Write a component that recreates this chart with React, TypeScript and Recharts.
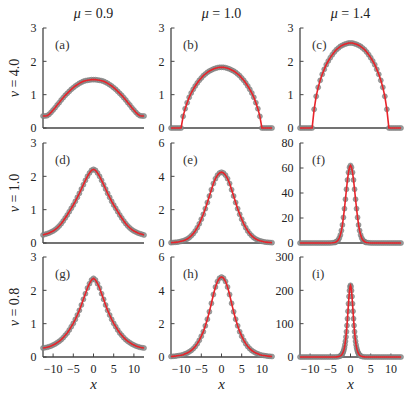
import { ComposedChart, Line, XAxis, YAxis } from 'recharts'

// x grids
const XS = [
  -12.5, -12, -11.5, -11, -10.5, -10, -9.5, -9, -8.5, -8, -7.5, -7, -6.5, -6, -5.5, -5, -4.5, -4, -3.5, -3, -2.5, -2, -1.5, -1, -0.5,
  0,
  0.5, 1, 1.5, 2, 2.5, 3, 3.5, 4, 4.5, 5, 5.5, 6, 6.5, 7, 7.5, 8, 8.5, 9, 9.5, 10, 10.5, 11, 11.5, 12, 12.5,
]
const XS_F = [
  -12.5, -12, -11.5, -11, -10.5, -10, -9.5, -9, -8.5, -8, -7.5, -7, -6.5, -6, -5.5, -5, -4.5,
  -4, -3.75, -3.5, -3.25, -3, -2.75, -2.5, -2.25, -2, -1.75, -1.5, -1.25, -1, -0.75, -0.5, -0.25,
  0,
  0.25, 0.5, 0.75, 1, 1.25, 1.5, 1.75, 2, 2.25, 2.5, 2.75, 3, 3.25, 3.5, 3.75, 4,
  4.5, 5, 5.5, 6, 6.5, 7, 7.5, 8, 8.5, 9, 9.5, 10, 10.5, 11, 11.5, 12, 12.5,
]
const XS_I = [
  -12.5, -12, -11.5, -11, -10.5, -10, -9.5, -9, -8.5, -8, -7.5, -7, -6.5, -6, -5.5, -5, -4.5, -4, -3.5, -3,
  -2.5, -2.375, -2.25, -2.125, -2, -1.875, -1.75, -1.625, -1.5, -1.375, -1.25, -1.125, -1, -0.875, -0.75, -0.625, -0.5, -0.375, -0.25, -0.125,
  0,
  0.125, 0.25, 0.375, 0.5, 0.625, 0.75, 0.875, 1, 1.125, 1.25, 1.375, 1.5, 1.625, 1.75, 1.875, 2, 2.125, 2.25, 2.375, 2.5,
  3, 3.5, 4, 4.5, 5, 5.5, 6, 6.5, 7, 7.5, 8, 8.5, 9, 9.5, 10, 10.5, 11, 11.5, 12, 12.5,
]

// nu = 4.0
const Y_A = [
  0.36, 0.36, 0.37, 0.41, 0.47, 0.54, 0.61, 0.69, 0.76, 0.84, 0.91, 0.98, 1.04, 1.1, 1.16, 1.21, 1.26, 1.3, 1.34, 1.37, 1.4, 1.42, 1.43, 1.44, 1.45,
  1.45,
  1.45, 1.44, 1.43, 1.42, 1.4, 1.37, 1.34, 1.3, 1.26, 1.21, 1.16, 1.1, 1.04, 0.98, 0.91, 0.84, 0.76, 0.69, 0.61, 0.54, 0.47, 0.41, 0.37, 0.36, 0.36,
]
const Y_B = [
  0, 0, 0, 0, 0, 0, 0.35, 0.58, 0.76, 0.92, 1.05, 1.16, 1.26, 1.35, 1.43, 1.5, 1.57, 1.62, 1.67, 1.71, 1.74, 1.77, 1.79, 1.81, 1.82,
  1.82,
  1.82, 1.81, 1.79, 1.77, 1.74, 1.71, 1.67, 1.62, 1.57, 1.5, 1.43, 1.35, 1.26, 1.16, 1.05, 0.92, 0.76, 0.58, 0.35, 0, 0, 0, 0, 0, 0,
]
const Y_C = [
  0, 0, 0, 0, 0, 0, 0, 0.56, 0.95, 1.22, 1.43, 1.61, 1.76, 1.9, 2.01, 2.11, 2.2, 2.28, 2.35, 2.4, 2.45, 2.48, 2.51, 2.53, 2.55,
  2.55,
  2.55, 2.53, 2.51, 2.48, 2.45, 2.4, 2.35, 2.28, 2.2, 2.11, 2.01, 1.9, 1.76, 1.61, 1.43, 1.22, 0.95, 0.56, 0, 0, 0, 0, 0, 0, 0,
]

// nu = 1.0
const Y_D = [
  0.24, 0.26, 0.28, 0.3, 0.33, 0.36, 0.4, 0.45, 0.51, 0.58, 0.66, 0.75, 0.84, 0.94, 1.04, 1.14, 1.25, 1.37, 1.49, 1.62, 1.75, 1.88, 2.0, 2.1, 2.18,
  2.21,
  2.18, 2.1, 2.0, 1.88, 1.75, 1.62, 1.49, 1.37, 1.25, 1.14, 1.04, 0.94, 0.84, 0.75, 0.66, 0.58, 0.51, 0.45, 0.4, 0.36, 0.33, 0.3, 0.28, 0.26, 0.24,
]
const Y_E = [
  0.02, 0.03, 0.04, 0.05, 0.07, 0.1, 0.13, 0.18, 0.24, 0.32, 0.43, 0.56, 0.72, 0.92, 1.15, 1.43, 1.72, 2.06, 2.43, 2.82, 3.2, 3.57, 3.86, 4.07, 4.2,
  4.25,
  4.2, 4.07, 3.86, 3.57, 3.2, 2.82, 2.43, 2.06, 1.72, 1.43, 1.15, 0.92, 0.72, 0.56, 0.43, 0.32, 0.24, 0.18, 0.13, 0.1, 0.07, 0.05, 0.04, 0.03, 0.02,
]
const Y_F = [
  0, 0, 0, 0, 0, 0, 0, 0, 0, 0, 0, 0, 0, 0, 0.02, 0.06, 0.15,
  0.35, 0.6, 1.0, 1.6, 2.6, 4.2, 6.5, 10, 14.5, 20.5, 27.5, 35, 43, 50.5, 56.5, 60.5,
  62,
  60.5, 56.5, 50.5, 43, 35, 27.5, 20.5, 14.5, 10, 6.5, 4.2, 2.6, 1.6, 1.0, 0.6, 0.35,
  0.15, 0.06, 0.02, 0, 0, 0, 0, 0, 0, 0, 0, 0, 0, 0, 0, 0, 0,
]

// nu = 0.8
const Y_G = [
  0.27, 0.28, 0.29, 0.31, 0.33, 0.36, 0.39, 0.43, 0.47, 0.52, 0.58, 0.65, 0.72, 0.81, 0.91, 1.01, 1.13, 1.26, 1.4, 1.56, 1.73, 1.9, 2.07, 2.2, 2.31,
  2.36,
  2.31, 2.2, 2.07, 1.9, 1.73, 1.56, 1.4, 1.26, 1.13, 1.01, 0.91, 0.81, 0.72, 0.65, 0.58, 0.52, 0.47, 0.43, 0.39, 0.36, 0.33, 0.31, 0.29, 0.28, 0.27,
]
const Y_H = [
  0.03, 0.04, 0.05, 0.07, 0.09, 0.11, 0.14, 0.19, 0.24, 0.31, 0.39, 0.5, 0.63, 0.8, 1.0, 1.25, 1.52, 1.87, 2.27, 2.72, 3.22, 3.75, 4.2, 4.53, 4.73,
  4.8,
  4.73, 4.53, 4.2, 3.75, 3.22, 2.72, 2.27, 1.87, 1.52, 1.25, 1.0, 0.8, 0.63, 0.5, 0.39, 0.31, 0.24, 0.19, 0.14, 0.11, 0.09, 0.07, 0.05, 0.04, 0.03,
]
const Y_I = [
  0, 0, 0, 0, 0, 0, 0, 0, 0, 0, 0, 0, 0, 0, 0, 0.01, 0.04, 0.12, 0.36, 1.1,
  3.3, 4.4, 5.7, 7.5, 9.9, 12.9, 17.0, 22.1, 28.5, 36.8, 47.3, 60.3, 76, 94.4, 115, 137.4, 160.1, 181.6, 199.2, 210.9,
  215,
  210.9, 199.2, 181.6, 160.1, 137.4, 115, 94.4, 76, 60.3, 47.3, 36.8, 28.5, 22.1, 17.0, 12.9, 9.9, 7.5, 5.7, 4.4, 3.3,
  1.1, 0.36, 0.12, 0.04, 0.01, 0, 0, 0, 0, 0, 0, 0, 0, 0, 0, 0, 0, 0, 0, 0,
]

const MU_LABELS = ['0.9', '1.0', '1.4']
const NU_LABELS = ['4.0', '1.0', '0.8']
const X_TICKS = [-10, -5, 0, 5, 10]

const PANELS = [
  { id: 'a', row: 0, col: 0, xs: XS, ys: Y_A, yMax: 3, yTicks: [0, 1, 2, 3] },
  { id: 'b', row: 0, col: 1, xs: XS, ys: Y_B, yMax: 3, yTicks: [0, 1, 2, 3] },
  { id: 'c', row: 0, col: 2, xs: XS, ys: Y_C, yMax: 3, yTicks: [0, 1, 2, 3] },
  { id: 'd', row: 1, col: 0, xs: XS, ys: Y_D, yMax: 3, yTicks: [0, 1, 2, 3] },
  { id: 'e', row: 1, col: 1, xs: XS, ys: Y_E, yMax: 6, yTicks: [0, 2, 4, 6] },
  { id: 'f', row: 1, col: 2, xs: XS_F, ys: Y_F, yMax: 80, yTicks: [0, 20, 40, 60, 80] },
  { id: 'g', row: 2, col: 0, xs: XS, ys: Y_G, yMax: 3, yTicks: [0, 1, 2, 3] },
  { id: 'h', row: 2, col: 1, xs: XS, ys: Y_H, yMax: 6, yTicks: [0, 2, 4, 6] },
  { id: 'i', row: 2, col: 2, xs: XS_I, ys: Y_I, yMax: 300, yTicks: [0, 100, 200, 300] },
]

const COL_LEFT = [43, 171, 300]
const ROW_TOP = [28, 143, 257]
const BOX_W = 101
const BOX_H = 100
const PAD_L = 32
const PAD_T = 10
const PAD_R = 5
const PAD_B = 30
const CW = PAD_L + BOX_W + PAD_R
const CH = PAD_T + BOX_H + PAD_B
const MARGIN = { top: PAD_T, right: PAD_R, bottom: 0, left: 0 }

const SERIF = "'Liberation Serif', 'DejaVu Serif', serif"
const FRAME = '#454545'
const RED = '#e8232a'
const tickStyle = { fontFamily: SERIF, fontSize: 12, fill: '#222' }
const minus = (v: number) => String(v).replace('-', '\u2212')

type PanelDef = (typeof PANELS)[number]

// axes of one panel; `show` false keeps the same layout but draws nothing
function axes(p: PanelDef, show: boolean) {
  const isBottom = p.row === 2
  const line = show ? { strokeWidth: 1.3 } : false
  const tl = show ? { strokeWidth: 1 } : false
  return [
    <XAxis
      key="b"
      xAxisId="b"
      dataKey="x"
      type="number"
      domain={[-12.5, 12.5]}
      ticks={X_TICKS}
      interval={0}
      height={PAD_B}
      tickSize={-3.5}
      tickMargin={10.5}
      tick={show && isBottom ? tickStyle : false}
      tickFormatter={minus}
      stroke={FRAME}
      axisLine={line}
      tickLine={tl}
    />,
    <XAxis
      key="t"
      xAxisId="t"
      orientation="top"
      dataKey="x"
      type="number"
      domain={[-12.5, 12.5]}
      ticks={X_TICKS}
      interval={0}
      height={0}
      tickSize={-3.5}
      tick={false}
      stroke={FRAME}
      axisLine={line}
      tickLine={tl}
    />,
    <YAxis
      key="l"
      yAxisId="l"
      type="number"
      domain={[0, p.yMax]}
      ticks={p.yTicks}
      interval={0}
      width={PAD_L}
      tickSize={-3.5}
      tickMargin={10}
      tick={show ? tickStyle : false}
      stroke={FRAME}
      axisLine={line}
      tickLine={tl}
    />,
    <YAxis
      key="r"
      yAxisId="r"
      orientation="right"
      type="number"
      domain={[0, p.yMax]}
      ticks={p.yTicks}
      interval={0}
      width={0}
      tickSize={-3.5}
      tick={false}
      stroke={FRAME}
      axisLine={line}
      tickLine={tl}
    />,
  ]
}

function Panel({ p }: { p: PanelDef }) {
  const data = p.xs.map((x, i) => ({ x, y: p.ys[i] }))
  return (
    <div
      style={{
        position: 'absolute',
        left: COL_LEFT[p.col] - PAD_L,
        top: ROW_TOP[p.row] - PAD_T,
        width: CW,
        height: CH,
      }}
    >
      {/* frame + gray markers */}
      <div style={{ position: 'absolute', left: 0, top: 0 }}>
        <ComposedChart width={CW} height={CH} data={data} margin={MARGIN}>
          {axes(p, true)}
          <Line
            xAxisId="b"
            yAxisId="l"
            dataKey="y"
            stroke="none"
            dot={{ r: 2.5, fill: '#8e8e8e', stroke: '#777', strokeWidth: 0.5, fillOpacity: 0.85 }}
            activeDot={false}
            isAnimationActive={false}
          />
        </ComposedChart>
      </div>
      {/* red curve on top */}
      <div style={{ position: 'absolute', left: 0, top: 0 }}>
        <ComposedChart width={CW} height={CH} data={data} margin={MARGIN}>
          {axes(p, false)}
          <Line
            xAxisId="b"
            yAxisId="l"
            dataKey="y"
            type="linear"
            stroke={RED}
            strokeWidth={1.6}
            dot={false}
            activeDot={false}
            isAnimationActive={false}
          />
        </ComposedChart>
      </div>
      <div
        style={{
          position: 'absolute',
          left: PAD_L + 12,
          top: PAD_T + 10,
          fontFamily: SERIF,
          fontSize: 13,
          color: '#333',
          lineHeight: 1,
        }}
      >
        ({p.id})
      </div>
    </div>
  )
}

export default function App() {
  return (
    <div
      style={{
        position: 'absolute',
        left: 0,
        top: 0,
        width: 415,
        height: 401,
        background: '#fff',
        fontFamily: SERIF,
        color: '#222',
      }}
    >
      {MU_LABELS.map((m, c) => (
        <div
          key={m + c}
          style={{
            position: 'absolute',
            left: COL_LEFT[c],
            width: BOX_W,
            top: 7,
            textAlign: 'center',
            fontSize: 14,
            lineHeight: 1,
          }}
        >
          <i>μ</i> = {m}
        </div>
      ))}
      {NU_LABELS.map((n, r) => (
        <div
          key={n + r}
          style={{
            position: 'absolute',
            left: 15 - 40,
            top: ROW_TOP[r] + BOX_H / 2 - 8,
            width: 80,
            textAlign: 'center',
            fontSize: 14,
            lineHeight: '16px',
            transform: 'rotate(-90deg)',
          }}
        >
          <i>ν</i> = {n}
        </div>
      ))}
      {PANELS.map((p) => (
        <Panel key={p.id} p={p} />
      ))}
      {COL_LEFT.map((l) => (
        <div
          key={l}
          style={{
            position: 'absolute',
            left: l,
            width: BOX_W,
            top: 377,
            textAlign: 'center',
            fontSize: 15,
            lineHeight: 1,
            fontStyle: 'italic',
          }}
        >
          x
        </div>
      ))}
    </div>
  )
}
